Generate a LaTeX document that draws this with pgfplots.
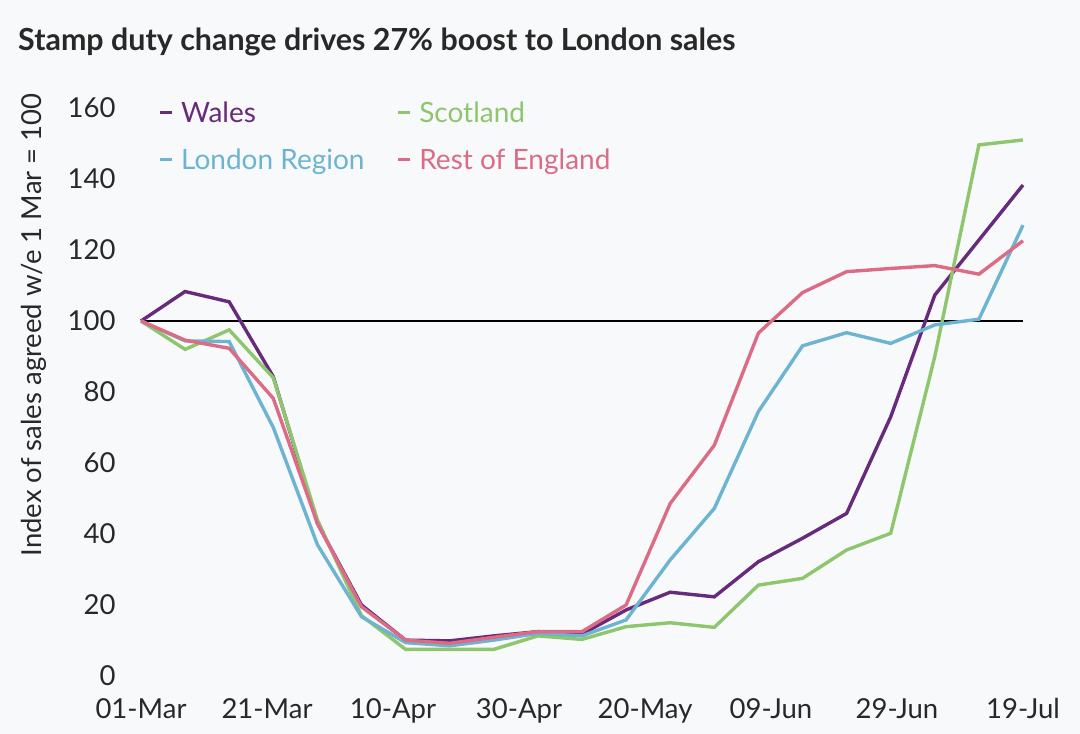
\documentclass[border=0pt]{standalone}
\usepackage{pgfplots}
\pgfplotsset{compat=1.18}
\usepackage{fontspec}
\setmainfont{Lato}
\definecolor{bgcol}{RGB}{248,249,251}
\definecolor{wales}{RGB}{104,42,122}
\definecolor{scot}{RGB}{141,198,108}
\definecolor{lon}{RGB}{108,180,210}
\definecolor{rest}{RGB}{220,108,134}
\definecolor{txt}{RGB}{40,40,40}
\begin{document}
\begin{tikzpicture}
\fill[bgcol] (0,0) rectangle (1080pt,734pt);
\node[anchor=base west, inner sep=0pt, text=txt, font=\bfseries\fontsize{30.4}{36}\selectfont] at (18pt,683pt) {Stamp duty change drives 27\% boost to London sales};
\node[rotate=90, inner sep=0pt, text=txt, font=\fontsize{27.5}{32}\selectfont] at (34pt,409pt) {Index of sales agreed w/e 1 Mar = 100};
\begin{axis}[
  at={(141pt,58pt)}, anchor=south west,
  width=882pt, height=568pt, scale only axis,
  xmin=0, xmax=140, ymin=0, ymax=160,
  axis line style={draw=none}, major tick length=0pt,
  xtick={0,20,...,140},
  xticklabels={01-Mar,21-Mar,10-Apr,30-Apr,20-May,09-Jun,29-Jun,19-Jul},
  ytick={0,20,...,160},
  /pgf/number format/assume math mode=true,
  tick label style={font=\fontsize{27.5}{32}\selectfont, text=txt},
  yticklabel style={xshift=-22pt},
  xticklabel style={yshift=-19pt},
  clip=false,
  legend columns=2,
  legend cell align=left,
  legend style={draw=none, fill=none, at={(rel axis cs:0.016,1.019)}, anchor=north west,
    font=\fontsize{28}{33}\selectfont, row sep=21pt,
    /tikz/every odd column/.append style={column sep=6pt},
    /tikz/every even column/.append style={column sep=30pt}},
  legend image code/.code={\draw[line width=2.8pt,#1] (0pt,0pt) -- (12pt,0pt);},
]
\addplot[black, line width=1.8pt, forget plot] coordinates {(0,100) (140,100)};
\addplot[wales, line width=3.4pt] coordinates {
(0,100) (7,108.3) (14,105.4) (21,84.3) (28,43) (35,20) (42,10.1) (49,9.9) (56,11.3) (63,12.5) (70,11.8) (77,18.6) (84,23.6) (91,22.3) (98,32.2) (105,38.8) (112,45.8) (119,73) (126,107.3) (133,122.8) (140,138.3)};
\addlegendentry{\textcolor{wales}{Wales}}
\addplot[scot, line width=3.4pt] coordinates {
(0,100) (7,92) (14,97.5) (21,84) (28,44) (35,17) (42,7.5) (49,7.5) (56,7.5) (63,11.3) (70,10.3) (77,13.9) (84,15) (91,13.7) (98,25.6) (105,27.5) (112,35.5) (119,40.2) (126,90) (133,149.6) (140,151)};
\addlegendentry{\textcolor{scot}{Scotland}}
\addplot[lon, line width=3.4pt] coordinates {
(0,100) (7,94.4) (14,94.2) (21,70) (28,37) (35,16.7) (42,9.4) (49,8.5) (56,10.1) (63,12) (70,11.3) (77,15.8) (84,32.7) (91,47.2) (98,74.5) (105,93) (112,96.7) (119,93.7) (126,98.9) (133,100.5) (140,127)};
\addlegendentry{\textcolor{lon}{London Region}}
\addplot[rest, line width=3.4pt] coordinates {
(0,100) (7,94.6) (14,92.3) (21,78.2) (28,43) (35,19.5) (42,10.1) (49,9.2) (56,10.9) (63,12.5) (70,12.5) (77,20) (84,48.6) (91,65) (98,96.6) (105,108) (112,113.9) (119,114.8) (126,115.6) (133,113.2) (140,122.6)};
\addlegendentry{\textcolor{rest}{Rest of England}}
\end{axis}
\end{tikzpicture}
\end{document}
